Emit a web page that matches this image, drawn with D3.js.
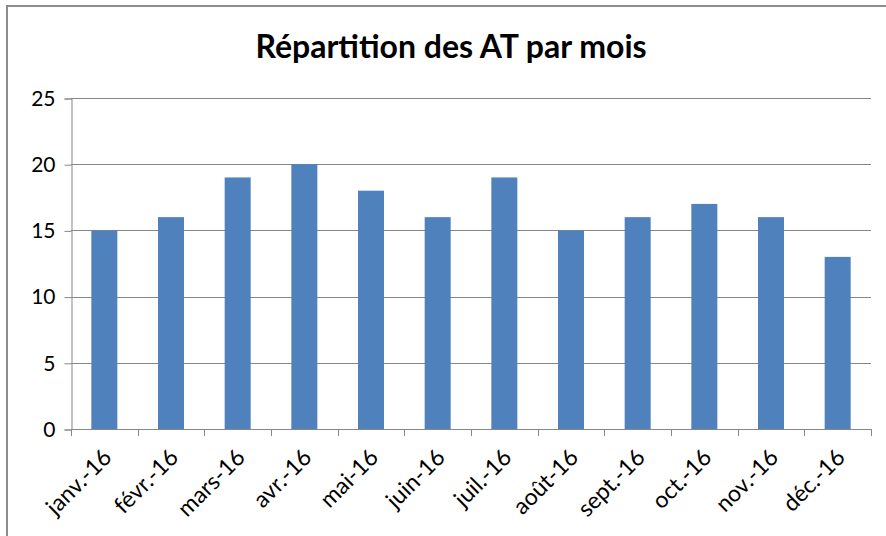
<!DOCTYPE html>
<html>
<head>
<meta charset="utf-8">
<script src="https://cdn.jsdelivr.net/npm/d3@7"></script>
<style>
  body { margin: 0; background: #fff; }
  text { font-family: Lato, "Open Sans", sans-serif; fill: #000; }
</style>
</head>
<body>
<svg id="graph"></svg>
<script>
// the data
var months = ["janv.-16", "févr.-16", "mars-16", "avr.-16", "mai-16", "juin-16",
              "juil.-16", "août-16", "sept.-16", "oct.-16", "nov.-16", "déc.-16"];
var accidents = [15, 16, 19, 20, 18, 16, 19, 15, 16, 17, 16, 13];
var yTicks = [0, 5, 10, 15, 20, 25];

var svg = d3.select("#graph")
    .attr("width", 886)
    .attr("height", 536);

// frame of the chart area (only top and left visible in the crop)
svg.append("path")
    .attr("d", "M7,536 V6 H886")
    .attr("fill", "none")
    .attr("stroke", "#8c8c8c")
    .attr("stroke-width", 2);

var plot = {left: 71, right: 871, top: 98, bottom: 429};

var x = d3.scaleBand()
    .domain(months)
    .range([plot.left, plot.right])
    .paddingInner(0.61)
    .paddingOuter(0.305);

var y = d3.scaleLinear()
    .domain([0, 25])
    .range([plot.bottom, plot.top]);

var step = x.step();

// title
svg.append("text")
    .attr("x", 451)
    .attr("y", 58)
    .attr("text-anchor", "middle")
    .style("font-weight", "bold")
    .style("font-size", "32px")
    .text("Répartition des AT par mois");

// horizontal grid lines
svg.append("g")
  .selectAll("line")
  .data(yTicks.filter(function(d) { return d > 0; }))
  .enter().append("line")
    .attr("x1", plot.left)
    .attr("x2", plot.right)
    .attr("y1", function(d) { return Math.round(y(d)) + 0.5; })
    .attr("y2", function(d) { return Math.round(y(d)) + 0.5; })
    .attr("stroke", "#878787");

// y axis
var yAxis = svg.append("g")
    .attr("transform", "translate(" + (plot.left + 0.5) + ",0.5)")
    .call(d3.axisLeft(y).tickValues(yTicks).tickSize(7).tickPadding(9));
yAxis.select(".domain").attr("stroke", "#878787");
yAxis.selectAll(".tick line").attr("stroke", "#878787");
yAxis.selectAll("text").style("font-size", "21px").style("font-family", "Lato, sans-serif").attr("fill", "#000");

// bars
svg.selectAll(".bar")
  .data(accidents)
  .enter().append("rect")
    .attr("class", "bar")
    .attr("x", function(d, i) { return x(months[i]); })
    .attr("y", function(d) { return y(d); })
    .attr("width", x.bandwidth())
    .attr("height", function(d) { return y(0) - y(d); })
    .attr("fill", "#4f81bd");

// x axis line and ticks at band edges
var xAxis = svg.append("g");
xAxis.append("line")
    .attr("x1", plot.left)
    .attr("x2", plot.right + 1)
    .attr("y1", Math.round(y(0)) + 0.5)
    .attr("y2", Math.round(y(0)) + 0.5)
    .attr("stroke", "#878787");
var edges = months.map(function(m) { return x(m) - step * x.paddingInner() / 2; });
edges.push(plot.right);
xAxis.selectAll(".xtick")
  .data(edges)
  .enter().append("line")
    .attr("class", "xtick")
    .attr("x1", function(d) { return Math.round(d) + 0.5; })
    .attr("x2", function(d) { return Math.round(d) + 0.5; })
    .attr("y1", Math.round(y(0)))
    .attr("y2", Math.round(y(0)) + 7)
    .attr("stroke", "#878787");

// rotated month labels
xAxis.selectAll(".xlabel")
  .data(months)
  .enter().append("text")
    .attr("class", "xlabel")
    .attr("text-anchor", "end")
    .attr("transform", function(d) {
      return "translate(" + (x(d) + x.bandwidth() / 2 + 3) + "," + (y(0) + 24) + ") rotate(-45)";
    })
    .attr("dy", "0.35em")
    .style("font-size", "23px")
    .text(function(d) { return d; });
</script>
</body>
</html>
